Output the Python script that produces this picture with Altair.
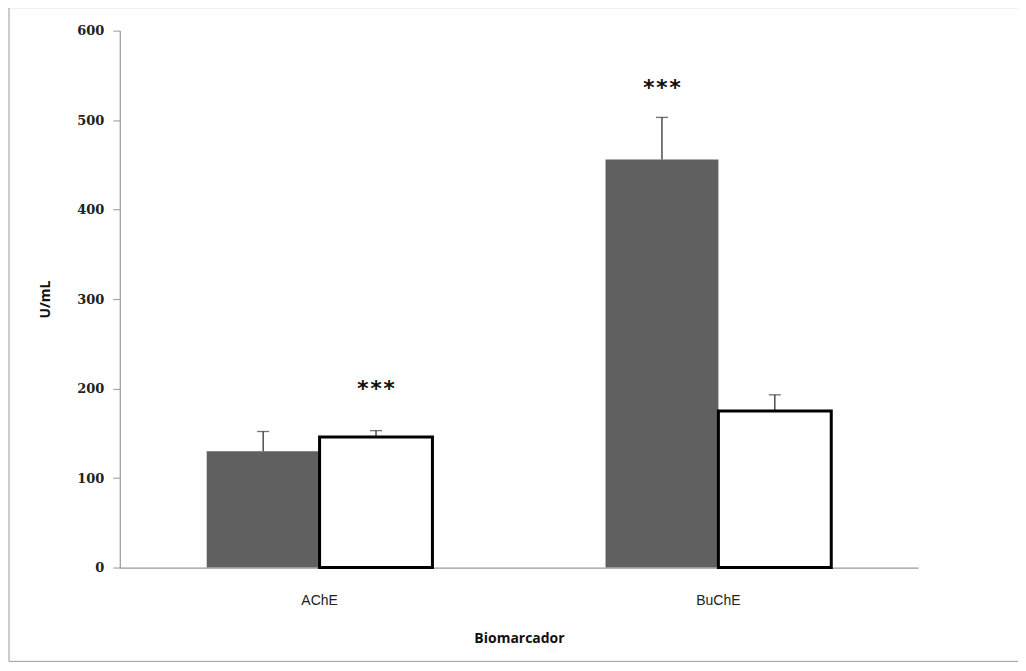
import altair as alt
import pandas as pd

biomarcador = ["AChE", "AChE", "BuChE", "BuChE"]
grupo = ["Grupo 1", "Grupo 2", "Grupo 1", "Grupo 2"]
valor = [130, 146, 456, 175]
erro_sup = [152, 153, 503, 193]
sig = ["", "***", "***", ""]
sig_y = [0, 200, 536, 0]

df = pd.DataFrame({"bio": biomarcador, "grupo": grupo, "valor": valor,
                   "sup": erro_sup, "sig": sig, "sig_y": sig_y})

xenc = alt.X("bio:N", title="Biomarcador",
             scale=alt.Scale(paddingInner=0.434, paddingOuter=0.218),
             axis=alt.Axis(labelAngle=0, labelFont="Liberation Sans", labelFontSize=14,
                           labelColor="#222", labelPadding=26, ticks=False,
                           domainColor="#999", domainWidth=1.2,
                           titleFont="Open Sans", titleFontSize=14, titleFontWeight="bold",
                           titleColor="#111", titlePadding=24))
xoff = alt.XOffset("grupo:N", scale=alt.Scale(domain=["Grupo 1", "Grupo 2"], paddingInner=0, paddingOuter=0))
yscale = alt.Scale(domain=[0, 600], nice=False)
yenc = alt.Y("valor:Q", title="U/mL", scale=yscale,
             axis=alt.Axis(values=[0, 100, 200, 300, 400, 500, 600], grid=False,
                           labelFont="DejaVu Serif", labelFontWeight="bold", labelFontSize=13,
                           labelColor="#222", labelPadding=9, tickSize=7, tickColor="#999",
                           domainColor="#999", domainWidth=1.2,
                           titleFont="Open Sans", titleFontSize=14, titleFontWeight="bold",
                           titleColor="#111", titlePadding=24))

base = alt.Chart(df)

border = alt.Chart(pd.DataFrame({"a": [0]})).mark_rect(
    fill="transparent", stroke="#999", strokeWidth=1).encode(
    x=alt.value(-111), x2=alt.value(902), y=alt.value(-23), y2=alt.value(632))

bars_dark = base.transform_filter(alt.datum.grupo == "Grupo 1").mark_bar(
    color="#606060").encode(x=xenc, xOffset=xoff, y=yenc)
bars_white = base.transform_filter(alt.datum.grupo == "Grupo 2").mark_bar(
    fill="white", stroke="black", strokeWidth=3).encode(x=xenc, xOffset=xoff, y=yenc)

err = base.mark_rule(color="#333", strokeWidth=1.3).encode(
    x="bio:N", xOffset=xoff, y=alt.Y("valor:Q", scale=yscale), y2="sup:Q")
cap = base.mark_tick(color="#333", thickness=1.3, size=12, orient="horizontal").encode(
    x="bio:N", xOffset=xoff, y=alt.Y("sup:Q", scale=yscale))

stars = base.transform_filter(alt.datum.sig != "").mark_text(
    font="DejaVu Sans Mono", fontSize=22, fontWeight="bold", color="#111", baseline="middle").encode(
    x="bio:N", xOffset=xoff, y=alt.Y("sig_y:Q", scale=yscale), text="sig:N")

chart = alt.layer(border, bars_dark, err, cap, bars_white, stars).properties(
    width=800, height=538,
    background="white",
    autosize=alt.AutoSizeParams(type="none"),
    padding={"left": 112, "top": 22, "right": 100, "bottom": 95},
).configure_view(strokeWidth=0, stroke="transparent")

chart.save("out.html", embed_options={"renderer": "svg", "actions": False})
